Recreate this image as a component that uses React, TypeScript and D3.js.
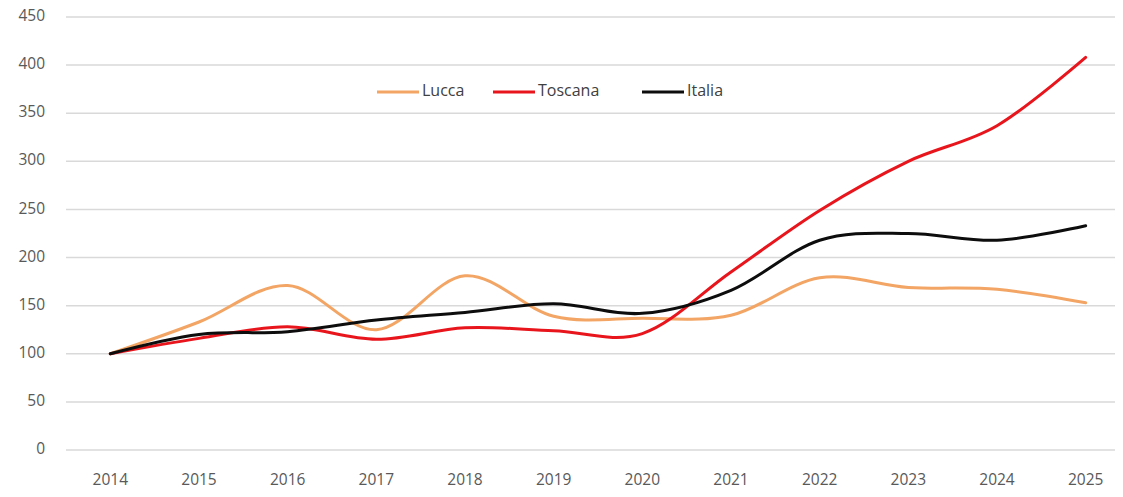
import { useEffect, useRef } from 'react';
import * as d3 from 'd3';

const years = ['2014', '2015', '2016', '2017', '2018', '2019', '2020', '2021', '2022', '2023', '2024', '2025'];
const lucca = [100, 133, 171, 125, 181, 139, 137, 140, 179, 169, 167, 153];
const toscana = [100, 116, 128, 115, 127, 124, 121, 185, 249, 300, 337, 408];
const italia = [100, 120, 123, 135, 143, 152, 142, 166, 218, 225, 218, 233];
const yTicks = [0, 50, 100, 150, 200, 250, 300, 350, 400, 450];

const series = [
  { name: 'Lucca', values: lucca, color: '#F2A564' },
  { name: 'Toscana', values: toscana, color: '#E8151D' },
  { name: 'Italia', values: italia, color: '#0D0D0D' },
];

export default function App() {
  const svgRef = useRef<SVGSVGElement>(null);

  useEffect(() => {
    if (!svgRef.current) return;
    const width = 1123;
    const height = 497;
    const margin = { left: 66, right: -7, top: 17, bottom: 47 };
    const font = '"Open Sans", "Liberation Sans", sans-serif';

    const svg = d3.select(svgRef.current);
    svg.selectAll('*').remove();
    svg.attr('width', width).attr('height', height);

    const x = d3.scaleBand()
      .domain(years)
      .range([margin.left, width - margin.right]);
    const y = d3.scaleLinear()
      .domain([0, 450])
      .range([height - margin.bottom, margin.top]);

    // gridlines
    svg.append('g')
      .selectAll('line')
      .data(yTicks)
      .enter()
      .append('line')
      .attr('x1', margin.left)
      .attr('x2', width)
      .attr('y1', (d) => y(d))
      .attr('y2', (d) => y(d))
      .attr('stroke', '#D9D9D9')
      .attr('stroke-width', 1.5);

    // y labels
    svg.append('g')
      .selectAll('text')
      .data(yTicks)
      .enter()
      .append('text')
      .attr('x', 45)
      .attr('y', (d) => y(d))
      .attr('text-anchor', 'end')
      .attr('dominant-baseline', 'middle')
      .attr('font-family', font)
      .attr('font-size', 15.5)
      .attr('fill', '#595959')
      .text((d) => d);

    // x labels
    svg.append('g')
      .selectAll('text')
      .data(years)
      .enter()
      .append('text')
      .attr('x', (d) => x(d)! + x.bandwidth() / 2)
      .attr('y', 481)
      .attr('text-anchor', 'middle')
      .attr('dominant-baseline', 'middle')
      .attr('font-family', font)
      .attr('font-size', 15.5)
      .attr('fill', '#595959')
      .text((d) => d);

    const line = d3.line<number>()
      .x((_, i) => x(years[i])! + x.bandwidth() / 2)
      .y((d) => y(d))
      .curve(d3.curveCardinal.tension(0));

    series.forEach((s) => {
      svg.append('path')
        .datum(s.values)
        .attr('d', line)
        .attr('fill', 'none')
        .attr('stroke', s.color)
        .attr('stroke-width', 3)
        .attr('stroke-linecap', 'round');
    });

    // legend
    const legendX = [377, 493, 642];
    series.forEach((s, i) => {
      const lg = svg.append('g').attr('transform', `translate(${legendX[i]}, 92)`);
      lg.append('line')
        .attr('x1', 0).attr('x2', 42)
        .attr('y1', 0).attr('y2', 0)
        .attr('stroke', s.color)
        .attr('stroke-width', 3);
      lg.append('text')
        .attr('x', 45)
        .attr('y', 0)
        .attr('dominant-baseline', 'middle')
        .attr('font-family', font)
        .attr('font-size', 16)
        .attr('fill', '#404040')
        .text(s.name);
    });
  }, []);

  return (
    <div style={{ margin: -8 }}>
      <svg ref={svgRef} style={{ display: 'block' }} />
    </div>
  );
}
